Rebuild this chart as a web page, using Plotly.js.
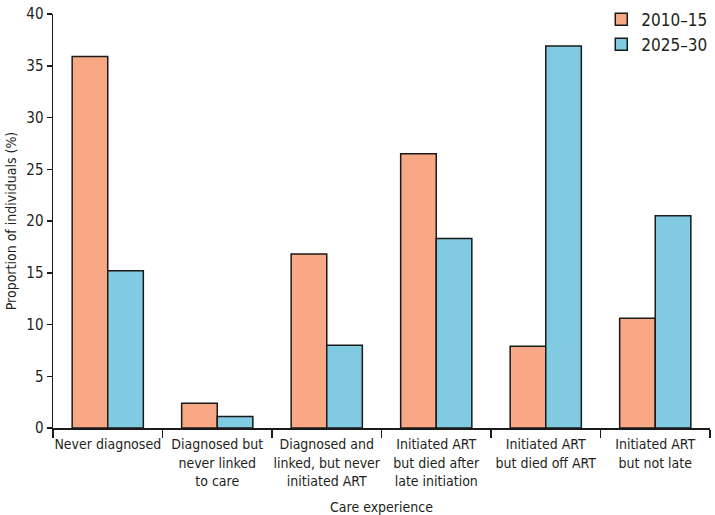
<!DOCTYPE html>
<html>
<head>
<meta charset="utf-8">
<script src="https://cdn.plot.ly/plotly-3.0.1.min.js"></script>
<style>html,body{margin:0;padding:0;background:#fff;}#chart{width:715px;height:515px;}</style>
</head>
<body>
<div id="chart"></div>
<script>
const categories = [
  "Never diagnosed",
  "Diagnosed but<br>never linked<br>to care",
  "Diagnosed and<br>linked, but never<br>initiated ART",
  "Initiated ART<br>but died after<br>late initiation",
  "Initiated ART<br>but died off ART",
  "Initiated ART<br>but not late"
];
const series2010 = [35.9, 2.4, 16.8, 26.5, 7.9, 10.6];
const series2025 = [15.2, 1.1, 8.0, 18.3, 36.9, 20.5];
const seriesNames = ["2010–15", "2025–30"];
const yTicks = [0, 5, 10, 15, 20, 25, 30, 35, 40];

const FONT = "'DejaVu Sans Condensed', 'Open Sans', sans-serif";
const TXT = "#231f20";

const data = [
  {type: "bar", name: seriesNames[0], x: categories, y: series2010,
   marker: {color: "#F9A886", line: {color: "#1a1a1a", width: 1.5}}},
  {type: "bar", name: seriesNames[1], x: categories, y: series2025,
   marker: {color: "#80CBE2", line: {color: "#1a1a1a", width: 1.5}}}
];

const layout = {
  width: 715, height: 515,
  margin: {l: 53, r: 2, t: 6, b: 87},
  paper_bgcolor: "#fff", plot_bgcolor: "#fff",
  font: {family: FONT, size: 14, color: TXT},
  barmode: "group", bargap: 0.35, bargroupgap: 0,
  showlegend: true,
  legend: {x: 1.005, xanchor: "right", y: 1.03, yanchor: "top",
           bgcolor: "rgba(0,0,0,0)", font: {size: 17, color: TXT},
           itemwidth: 30, tracegroupgap: 0},
  xaxis: {
    type: "category", tickson: "boundaries", ticks: "outside", ticklen: 8,
    tickwidth: 1.5, tickcolor: "#1a1a1a", tickangle: 0, automargin: false,
    ticklabelstandoff: 3,
    showline: true, linecolor: "#1a1a1a", linewidth: 1.5,
    showgrid: false, zeroline: false,
    tickfont: {size: 14, color: TXT},
    title: {text: "Care experience", font: {size: 14, color: TXT}, standoff: 15}
  },
  yaxis: {
    range: [0, 40], tickvals: yTicks, ticks: "outside", ticklen: 5,
    tickwidth: 1.5, tickcolor: "#1a1a1a", automargin: false,
    showline: true, linecolor: "#1a1a1a", linewidth: 1.5,
    showgrid: false, zeroline: false,
    tickfont: {size: 15, color: TXT},
    title: {text: "Proportion of individuals (%)", font: {size: 14, color: TXT}, standoff: 6}
  }
};

Plotly.newPlot("chart", data, layout, {displayModeBar: false, staticPlot: true});
</script>
</body>
</html>
